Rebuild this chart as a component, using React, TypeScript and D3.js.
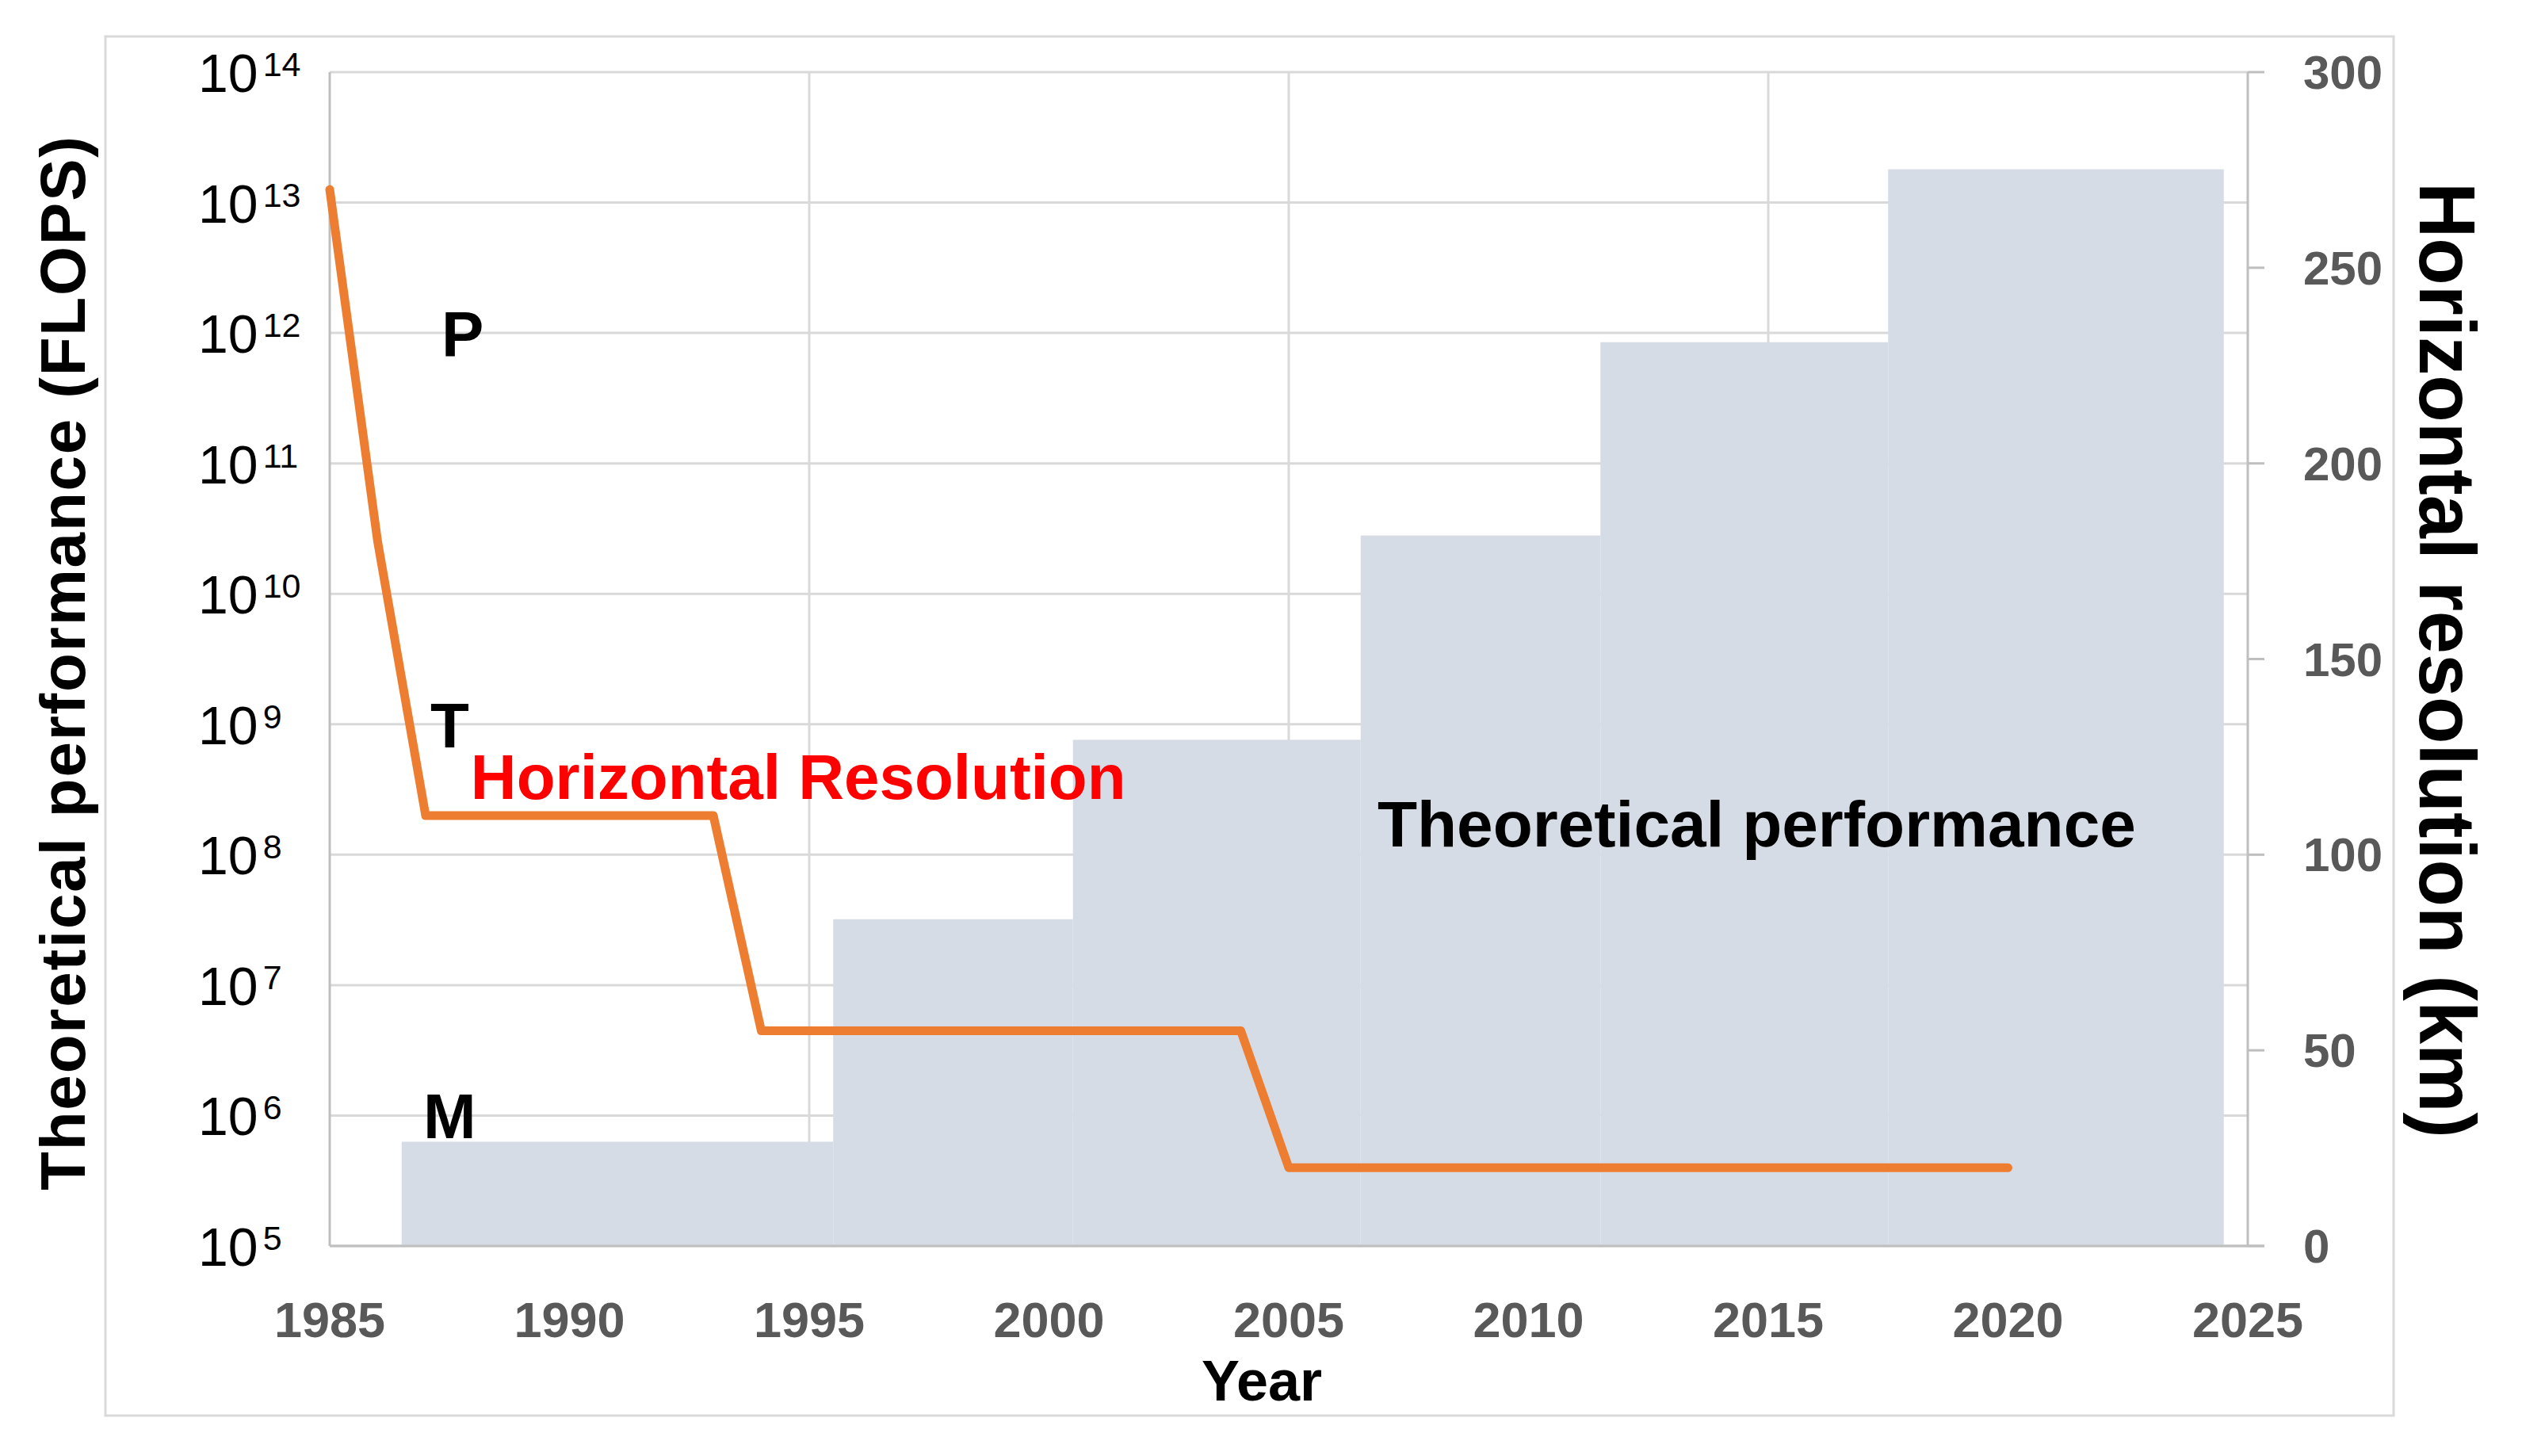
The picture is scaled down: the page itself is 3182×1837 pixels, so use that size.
import * as d3 from 'd3';

// performance steps (area behind the line), log axis
const barStart = [1986.5, 1995.5, 2000.5, 2006.5, 2011.5, 2017.5];
const barEnd = [1995.5, 2000.5, 2006.5, 2011.5, 2017.5, 2024.5];
const flops = [6.3e5, 3.2e7, 7.6e8, 2.8e10, 8.5e11, 1.8e13];

// horizontal resolution (km), right axis
const resYears = [1985, 1986, 1987, 1993, 1994, 2004, 2005, 2020];
const resKm = [270, 180, 110, 110, 55, 55, 20, 20];

const xTicks = [1985, 1990, 1995, 2000, 2005, 2010, 2015, 2020, 2025];
const xGrid = [1995, 2005, 2015];
const logExponents = [5, 6, 7, 8, 9, 10, 11, 12, 13, 14];
const resTicks = [0, 50, 100, 150, 200, 250, 300];

// unit markers placed on the 10^6 / 10^9 / 10^12 lines
const unitLabels = ['M', 'T', 'P'];
const unitYears = [1986.95, 1987.1, 1987.33];
const unitValues = [1e6, 1e9, 1e12];

const W = 3182;
const H = 1837;
const MARGIN = { top: 91, right: 346, bottom: 265, left: 416 };

const GRID = '#d9d9d9';
const AXIS = '#bfbfbf';
const TICK_TEXT = '#595959';
const FONT = '"Liberation Sans", Arial, sans-serif';

export default function App() {
  const x = d3.scaleLinear().domain([1985, 2025]).range([MARGIN.left, W - MARGIN.right]);
  const yLog = d3.scaleLog().domain([1e5, 1e14]).range([H - MARGIN.bottom, MARGIN.top]);
  const yRes = d3.scaleLinear().domain([0, 300]).range([H - MARGIN.bottom, MARGIN.top]);

  const x0 = x(1985);
  const x1 = x(2025);
  const yBottom = yLog(1e5);
  const yTop = yLog(1e14);

  const line = d3
    .line<number>()
    .x((_, i) => x(resYears[i]))
    .y((d) => yRes(d));
  const linePath = line(resKm) || '';

  return (
    <svg
      width={W}
      height={H}
      style={{ position: 'absolute', left: 0, top: 0, background: '#fff' }}
    >
      {/* outer frame */}
      <rect x={133} y={46} width={3020 - 133} height={1786 - 46} fill="#fff" stroke={GRID} strokeWidth={3} />

      {/* horizontal gridlines (log axis) */}
      {logExponents.map((e) => (
        <line key={'h' + e} x1={x0} x2={x1} y1={yLog(10 ** e)} y2={yLog(10 ** e)} stroke={GRID} strokeWidth={3} />
      ))}
      {/* vertical gridlines */}
      {xGrid.map((yr) => (
        <line key={'v' + yr} x1={x(yr)} x2={x(yr)} y1={yTop} y2={yBottom} stroke={GRID} strokeWidth={3} />
      ))}

      {/* performance steps */}
      {flops.map((v, i) => (
        <rect
          key={'b' + i}
          x={x(barStart[i])}
          y={yLog(v)}
          width={x(barEnd[i]) - x(barStart[i])}
          height={yBottom - yLog(v)}
          fill="#d6dce5"
        />
      ))}

      {/* axes */}
      <line x1={x0} x2={x0} y1={yTop} y2={yBottom} stroke={AXIS} strokeWidth={3} />
      <line x1={x0} x2={x1 + 21} y1={yBottom} y2={yBottom} stroke={AXIS} strokeWidth={3} />
      <line x1={x1} x2={x1} y1={yTop} y2={yBottom} stroke={AXIS} strokeWidth={3} />
      {resTicks.map((t) => (
        <line key={'rt' + t} x1={x1} x2={x1 + 21} y1={yRes(t)} y2={yRes(t)} stroke={AXIS} strokeWidth={3} />
      ))}

      {/* resolution line */}
      <path
        d={linePath}
        fill="none"
        stroke="#ed7d31"
        strokeWidth={11}
        strokeLinejoin="round"
        strokeLinecap="round"
      />

      {/* left tick labels 10^n */}
      {logExponents.map((e) => (
        <text
          key={'ll' + e}
          x={250}
          y={yLog(10 ** e) + 25}
          fontFamily={FONT}
          fontSize={68}
          fill="#000"
        >
          10
          <tspan fontSize={43} dx={6} dy={-20}>
            {e}
          </tspan>
        </text>
      ))}

      {/* right tick labels */}
      {resTicks.map((t) => (
        <text
          key={'rl' + t}
          x={2906}
          y={yRes(t) + 21}
          fontFamily={FONT}
          fontWeight="bold"
          fontSize={60}
          fill={TICK_TEXT}
        >
          {t}
        </text>
      ))}

      {/* x tick labels */}
      {xTicks.map((t) => (
        <text
          key={'xl' + t}
          x={x(t)}
          y={1687}
          textAnchor="middle"
          fontFamily={FONT}
          fontWeight="bold"
          fontSize={63}
          fill={TICK_TEXT}
        >
          {t}
        </text>
      ))}

      {/* axis titles */}
      <text x={1592} y={1767} textAnchor="middle" fontFamily={FONT} fontWeight="bold" fontSize={72} fill="#000">
        Year
      </text>
      <text
        transform="translate(107,837) rotate(-90)"
        textAnchor="middle"
        fontFamily={FONT}
        fontWeight="bold"
        fontSize={80}
        textLength={1330}
        lengthAdjust="spacing"
        fill="#000"
      >
        Theoretical performance (FLOPS)
      </text>
      <text
        transform="translate(3053,833) rotate(90)"
        textAnchor="middle"
        fontFamily={FONT}
        fontWeight="bold"
        fontSize={100}
        textLength={1206}
        lengthAdjust="spacingAndGlyphs"
        fill="#000"
      >
        Horizontal resolution (km)
      </text>

      {/* unit markers */}
      {unitLabels.map((u, i) => (
        <text
          key={u}
          x={x(unitYears[i])}
          y={yLog(unitValues[i]) + 29}
          fontFamily={FONT}
          fontWeight="bold"
          fontSize={80}
          fill="#000"
        >
          {u}
        </text>
      ))}

      {/* series labels */}
      <text x={x(1987.94)} y={1008} fontFamily={FONT} fontWeight="bold" fontSize={80} fill="#ff0000">
        Horizontal Resolution
      </text>
      <text x={x(2006.85)} y={1068} fontFamily={FONT} fontWeight="bold" fontSize={82} fill="#000">
        Theoretical performance
      </text>
    </svg>
  );
}
